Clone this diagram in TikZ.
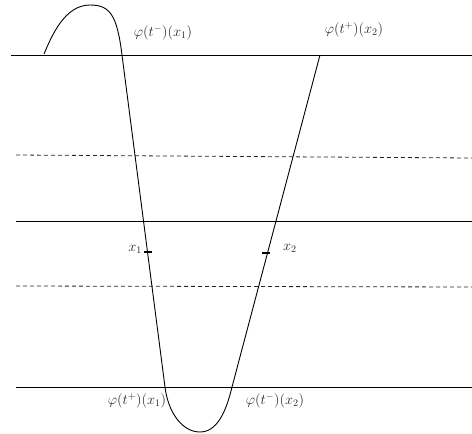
\documentclass[tikz,border=0pt]{standalone}
\begin{document}
\begin{tikzpicture}[x=1pt,y=-1pt,
  solidline/.style={line width=0.8pt,black},
  dashline/.style={line width=0.8pt,black!85,dash pattern=on 4pt off 3pt},
  curveline/.style={line width=0.9pt,black},
  tickmark/.style={line width=1.8pt,black},
  lab/.style={text=black!85,inner sep=0pt,font=\fontsize{14.5}{16}\selectfont}]
\useasboundingbox (0,0) rectangle (472,434);
% horizontal lines
\draw[solidline] (11,55) -- (472,55);
\draw[dashline] (16,155) -- (472,158);
\draw[solidline] (16,221) -- (472,221);
\draw[dashline] (16,286) -- (472,287);
\draw[solidline] (16,387) -- (472,387);
% curve
\draw[curveline] (44,54) .. controls (52,35) and (65,5) .. (90,5)
  .. controls (110,5) and (117,15) .. (122,55)
  -- (165,387)
  .. controls (168,412) and (182,432) .. (200,432)
  .. controls (217,432) and (226,412) .. (232,387)
  -- (320,55);
% ticks
\coordinate (t1) at (148,252);
\coordinate (t2) at (266,253);
\draw[tickmark] ([xshift=-4pt]t1) -- ([xshift=4pt]t1);
\draw[tickmark] ([xshift=-4pt]t2) -- ([xshift=4pt]t2);
% labels
\node[lab,anchor=east] (lx1) at (142,249) {$x_1$};
\node[lab,anchor=west] (lx2) at (283,248) {$x_2$};
\node[lab] (l1) at (163,33) {$\varphi(t^-)(x_1)$};
\node[lab] (l2) at (354,30) {$\varphi(t^+)(x_2)$};
\node[lab] (l3) at (137,401) {$\varphi(t^+)(x_1)$};
\node[lab] (l4) at (275,401) {$\varphi(t^-)(x_2)$};
\end{tikzpicture}
\end{document}
